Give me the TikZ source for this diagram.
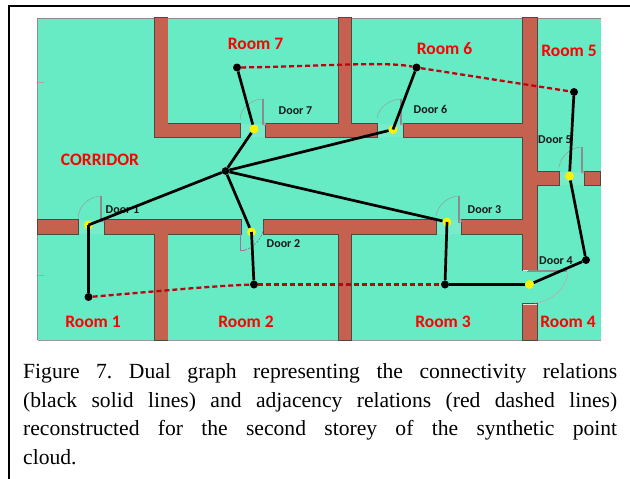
\documentclass[tikz,border=0pt]{standalone}
\usepackage{fontspec}
\setmainfont{Liberation Serif}
\newfontfamily\planfont{Carlito}
\definecolor{floorc}{HTML}{66EBC5}
\definecolor{wallc}{HTML}{C4624F}
\definecolor{wallline}{HTML}{4A4A45}
\definecolor{dashc}{HTML}{C00010}
\definecolor{gapc}{HTML}{78EBCB}
\tikzset{
  x=1pt,y=-1pt,
  roomdot/.style={circle,fill=black,inner sep=0pt,minimum size=8pt},
  doordot/.style={circle,fill=yellow,inner sep=0pt,minimum size=8.8pt},
  conn/.style={line width=2.7pt,black},
  adj/.style={line width=2.3pt,dashc,dash pattern=on 5pt off 3pt},
  roomlabel/.style={font=\planfont\bfseries\fontsize{17.5}{19}\selectfont,text=red,inner sep=0pt},
  doorlabel/.style={font=\planfont\bfseries\fontsize{12}{14}\selectfont,text=black!90,inner sep=0pt},
  leaf/.style={draw=black!45,line width=.5pt,fill=white!70!gray},
  swing/.style={draw=black!40,line width=.45pt},
}
\newcommand{\wallrects}[1]{%
  \path[#1] (154.5,18) rectangle (167.5,137);
  \path[#1] (167.5,124) rectangle (240,137);
  \path[#1] (266,124) rectangle (377,137);
  \path[#1] (404,124) rectangle (523,137);
  \path[#1] (339,18) rectangle (351,124);
  \path[#1] (523,18) rectangle (537,270);
  \path[#1] (523,304) rectangle (537,340);
  \path[#1] (37.5,220) rectangle (78,234);
  \path[#1] (104.5,220) rectangle (241,234);
  \path[#1] (264,220) rectangle (436,234);
  \path[#1] (462,220) rectangle (523,234);
  \path[#1] (154.5,234) rectangle (167.5,340);
  \path[#1] (339,234) rectangle (351,340);
  \path[#1] (537,172) rectangle (559,185);
  \path[#1] (585,172) rectangle (600,185);
}
\begin{document}
\begin{tikzpicture}
\useasboundingbox (0,0) rectangle (630,479);
% page frame
\draw[line width=2pt,black] (9,479) -- (9,5.5) -- (630,5.5);
% floor
\fill[floorc] (37.5,18) rectangle (601,340);
\draw[black!45,line width=.7pt] (37.5,340) -- (37.5,18) -- (601,18);
\draw[black!40,line width=1pt] (37.5,340) -- (601,340);
\draw[black!35,line width=.4pt] (37.5,82) -- (44,82) (37.5,275) -- (44,275);
% door gaps
\fill[gapc] (78,220) rectangle (104.5,234);
\fill[gapc] (240,124) rectangle (266,137);
\fill[gapc] (377,124) rectangle (404,137);
\fill[gapc] (436,220) rectangle (462,234);
\fill[gapc] (559,172) rectangle (585,185);
% walls
\wallrects{draw=wallline,line width=1.2pt}
\wallrects{fill=wallc}
% door leaves and swings
\draw[leaf] (100,196) rectangle (101.5,221);
\draw[swing] (100,196) .. controls (88,197) and (78,207) .. (78,219);
\draw[leaf] (103,221) circle (1.3);
\draw[leaf] (262,99) rectangle (263.5,124);
\draw[swing] (262,99) .. controls (250,100) and (240,109) .. (240,120);
\draw[leaf] (264.5,124) circle (1.3);
\draw[leaf] (400,99) rectangle (401.5,124);
\draw[swing] (400,99) .. controls (388,100) and (379,108) .. (377,118);
\draw[leaf] (402,124) circle (1.3);
\draw[leaf] (581,147) rectangle (582.5,172);
\draw[swing] (581,147) .. controls (570,148) and (561,156) .. (559,167);
\draw[leaf] (583,172) circle (1.3);
\draw[leaf] (458,196) rectangle (459.5,222);
\draw[swing] (458,196) .. controls (447,197) and (438,205) .. (436,216);
\draw[leaf] (460.5,221) circle (1.3);
\draw[draw=violet!60!black!55,line width=.9pt] (240.5,221) -- (240.5,250) -- (245,250);
\draw[swing,draw=violet!40!gray,dash pattern=on 2pt off 1.5pt] (245,250) .. controls (254,247) and (263,239) .. (264,225);
\draw[leaf] (527,270.2) rectangle (566,271.6);
\draw[swing,draw=black!30!white,line width=.7pt] (568,272) .. controls (567,288) and (552,301) .. (535,303);
\draw[white!80!gray,line width=1pt] (523,304) -- (537,304) (523,270) -- (528,270);
% room and door labels
\node[roomlabel] (lab7) at (255.5,44) {Room 7};
\node[roomlabel] (lab6) at (444.5,48.5) {Room 6};
\node[roomlabel] (lab5) at (569,51) {Room 5};
\node[roomlabel] (lab4) at (568,321.5) {Room 4};
\node[roomlabel] (lab3) at (443,321.5) {Room 3};
\node[roomlabel] (lab2) at (246,321.5) {Room 2};
\node[roomlabel] (lab1) at (93,321.5) {Room 1};
\node[roomlabel] (labc) at (100,159.5) {CORRIDOR};
\node[doorlabel] (dl7) at (295.5,111) {Door 7};
\node[doorlabel] (dl6) at (430.5,109) {Door 6};
\node[doorlabel] (dl5) at (555,140) {Door 5};
\node[doorlabel] (dl4) at (556,261) {Door 4};
\node[doorlabel] (dl3) at (484.5,209.5) {Door 3};
\node[doorlabel] (dl2) at (283.5,244) {Door 2};
\node[doorlabel] (dl1) at (122.5,210) {Door 1};
% graph nodes
\node[doordot] (d7) at (254,129) {};
\node[doordot] (d6) at (393,129.5) {};
\node[doordot] (d5) at (569.5,176) {};
\node[doordot] (d4) at (529.5,284.5) {};
\node[doordot] (d3) at (447,222) {};
\node[doordot] (d2) at (251.5,232) {};
\node[doordot] (d1) at (88.5,225) {};
\node[roomdot] (r7) at (237,67.5) {};
\node[roomdot] (r6) at (416.5,67.5) {};
\node[roomdot] (r5) at (574,92) {};
\node[roomdot] (r4) at (586,260) {};
\node[roomdot] (r3) at (445,284.5) {};
\node[roomdot] (r2) at (254,284.5) {};
\node[roomdot] (r1) at (88.5,297) {};
\node[roomdot,minimum size=7.6pt] (c) at (225.5,171) {};
% adjacency
\draw[adj] (r7) .. controls (320,66.5) and (385,61) .. (r6);
\draw[adj] (r6) -- (r5);
\draw[adj] (r1) .. controls (150,292) and (210,286) .. (r2);
\draw[adj] (r2) -- (r3);
% connectivity
\draw[conn] (r7) -- (d7);
\draw[conn] (d7) -- (c);
\draw[conn] (c) -- (d6);
\draw[conn] (d6.center) -- (r6);
\draw[conn] (c) -- (d1.center);
\draw[conn] (d1.center) -- (r1);
\draw[conn] (c) -- (d2);
\draw[conn] (d2.center) -- (r2);
\draw[conn] (c) -- (d3);
\draw[conn] (d3.center) -- (r3);
\draw[conn] (r3) -- (d4);
\draw[conn] (d4) -- (r4);
\draw[conn] (r4) -- (d5);
\draw[conn] (d5) -- (r5);
% caption
\node[anchor=north west,inner sep=0pt,text width=594pt,align=justify,font=\fontsize{21.6}{28.6}\selectfont] (cap) at (23,363.5)
  {\frenchspacing Figure 7. Dual graph representing the connectivity relations\linebreak (black solid lines) and adjacency relations (red dashed lines)\linebreak reconstructed for the second storey of the synthetic point\linebreak cloud.};
\end{tikzpicture}
\end{document}
